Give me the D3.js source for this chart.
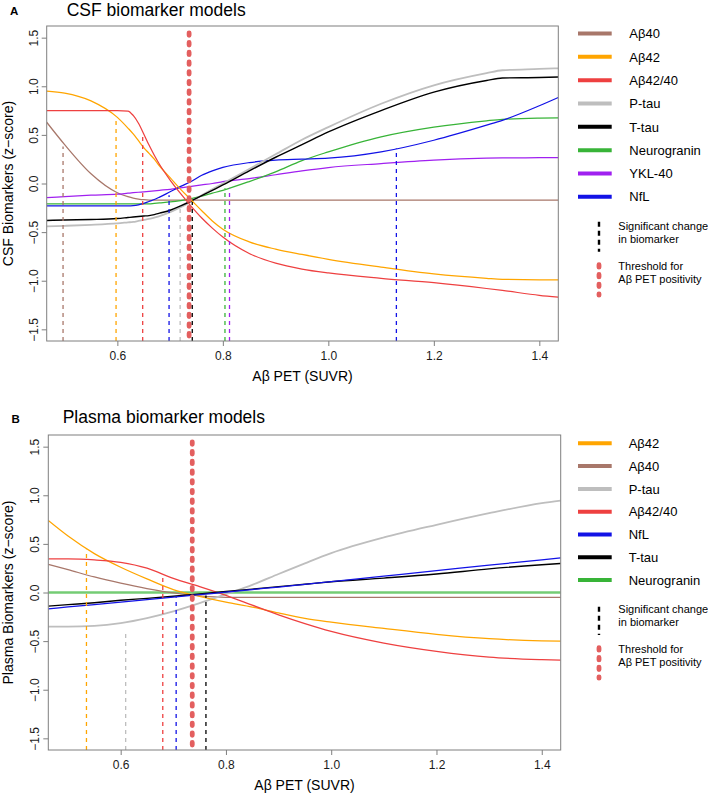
<!DOCTYPE html>
<html><head><meta charset="utf-8">
<script src="https://cdn.jsdelivr.net/npm/d3@7"></script>
<style>body{margin:0;background:#fff}svg{display:block;font-family:"Liberation Sans",Arial,Helvetica,sans-serif}</style>
</head><body><svg id="c" width="708" height="794"></svg>
<script>
// ---------------- DATA ----------------
const yTicks = [-1.5, -1, -0.5, 0, 0.5, 1, 1.5];
const xTicks = [0.6, 0.8, 1.0, 1.2, 1.4];
const thresholdSUVR = 0.736;

// Panel A: CSF biomarker models
const csfX      = [0.466,0.5,0.55,0.6,0.62,0.63,0.64,0.65,0.66,0.67,0.68,0.7,0.72,0.74,0.76,0.78,0.8,0.85,0.9,0.95,1.0,1.1,1.2,1.3,1.33,1.4,1.436];
const csfAb40   = [0.63,0.40,0.10,-0.095,-0.135,-0.15,-0.16,-0.167,-0.17,-0.17,-0.17,-0.17,-0.17,-0.17,-0.17,-0.17,-0.17,-0.17,-0.17,-0.17,-0.17,-0.17,-0.17,-0.17,-0.17,-0.17,-0.17];
const csfAb42   = [0.95,0.93,0.85,0.68,0.57,0.51,0.44,0.37,0.31,0.25,0.18,0.06,-0.06,-0.17,-0.28,-0.385,-0.47,-0.60,-0.675,-0.73,-0.78,-0.86,-0.93,-0.975,-0.985,-0.99,-0.99];
const csfAb4240 = [0.75,0.75,0.75,0.75,0.745,0.70,0.62,0.51,0.395,0.29,0.195,0.035,-0.105,-0.235,-0.355,-0.459,-0.551,-0.72,-0.82,-0.88,-0.92,-0.975,-1.02,-1.08,-1.10,-1.15,-1.17];
const csfPtau   = [-0.44,-0.435,-0.425,-0.41,-0.40,-0.395,-0.385,-0.375,-0.365,-0.35,-0.335,-0.295,-0.245,-0.185,-0.12,-0.06,0.0,0.15,0.30,0.45,0.58,0.82,1.01,1.135,1.165,1.178,1.185];
const csfTtau   = [-0.38,-0.375,-0.37,-0.36,-0.35,-0.345,-0.34,-0.335,-0.33,-0.32,-0.305,-0.275,-0.23,-0.18,-0.125,-0.07,-0.015,0.13,0.27,0.40,0.53,0.75,0.94,1.06,1.085,1.09,1.095];
const csfNrgn   = [-0.21,-0.21,-0.21,-0.21,-0.21,-0.21,-0.21,-0.21,-0.21,-0.205,-0.20,-0.19,-0.175,-0.155,-0.13,-0.10,-0.07,0.02,0.12,0.235,0.325,0.48,0.58,0.645,0.66,0.673,0.675];
const csfYkl40  = [-0.145,-0.135,-0.12,-0.11,-0.10,-0.095,-0.09,-0.085,-0.08,-0.075,-0.07,-0.06,-0.045,-0.03,-0.015,0.0,0.02,0.05,0.09,0.13,0.164,0.205,0.24,0.26,0.263,0.265,0.265];
const csfNfl    = [-0.23,-0.23,-0.23,-0.23,-0.23,-0.228,-0.22,-0.205,-0.185,-0.165,-0.14,-0.085,-0.03,0.02,0.085,0.13,0.165,0.215,0.24,0.25,0.26,0.325,0.445,0.60,0.65,0.80,0.885];
const csfSigMarker = ["Aβ40","Aβ42","Aβ42/40","NfL","P-tau","T-tau","Neurogranin","YKL-40","NfL"];
const csfSigX      = [0.497,0.5975,0.648,0.698,0.719,0.742,0.804,0.8126,1.129];
const csfSigTop    = [0.38,0.68,0.52,-0.12,-0.23,-0.19,-0.05,-0.05,0.36];
const csfLegend = ["Aβ40","Aβ42","Aβ42/40","P-tau","T-tau","Neurogranin","YKL-40","NfL"];

// Panel B: Plasma biomarker models
const plasmaX      = [0.4625,0.5,0.55,0.6,0.65,0.7,0.75,0.8,0.85,0.9,0.95,1.0,1.1,1.2,1.3,1.4,1.436];
const plasmaAb42   = [0.74,0.58,0.40,0.26,0.14,0.03,-0.04,-0.10,-0.15,-0.21,-0.265,-0.305,-0.37,-0.43,-0.475,-0.497,-0.50];
const plasmaAb40   = [0.29,0.235,0.16,0.096,0.04,-0.005,-0.035,-0.05,-0.05,-0.05,-0.05,-0.05,-0.05,-0.05,-0.05,-0.05,-0.05];
const plasmaPtau   = [-0.35,-0.35,-0.343,-0.315,-0.264,-0.195,-0.11,-0.017,0.079,0.19,0.30,0.405,0.566,0.696,0.816,0.919,0.946];
const plasmaAb4240 = [0.345,0.345,0.335,0.31,0.25,0.145,0.06,-0.03,-0.13,-0.23,-0.32,-0.40,-0.52,-0.605,-0.665,-0.69,-0.695];
const plasmaNfl    = [-0.168,-0.149,-0.124,-0.099,-0.073,-0.048,-0.022,0.003,0.03,0.056,0.084,0.112,0.168,0.224,0.282,0.336,0.357];
const plasmaTtau   = [-0.14,-0.125,-0.105,-0.08,-0.06,-0.038,-0.015,0.01,0.035,0.06,0.085,0.11,0.148,0.19,0.243,0.285,0.298];
const plasmaNrgn   = [0,0,0,0,0,0,0,0,0,0,0,0,0,0,0,0,0];
const plasmaSigMarker = ["Aβ42","P-tau","Aβ42/40","NfL","T-tau"];
const plasmaSigX      = [0.535,0.6095,0.68,0.7054,0.762];
const plasmaSigTop    = [0.44,-0.40,0.19,-0.05,-0.03];
const plasmaLegend = ["Aβ42","Aβ40","P-tau","Aβ42/40","NfL","T-tau","Neurogranin"];

// ---------------- STYLE ----------------
const colors = {
  "Aβ40":"#A8776A","Aβ42":"#FFA500","Aβ42/40":"#EE4040","P-tau":"#BEBEBE",
  "T-tau":"#000000","Neurogranin":"#38B438","YKL-40":"#A020F0","NfL":"#1212E6"
};
const widths = {"P-tau":1.8,"T-tau":1.4};
const dotColor = "#E35F5F";
const frameColor = "#7f7f7f";
const fontFam = '"Liberation Sans",Arial,Helvetica,sans-serif';
const fmt = d => d.toFixed(1).replace("-", "\u2212");

const svg = d3.select("#c");

function panel(cfg) {
  const x = d3.scaleLinear().domain(cfg.xDomain).range([cfg.left, cfg.right]);
  const y = d3.scaleLinear().domain([-1.62, 1.62]).range([cfg.bottom, cfg.top]);
  const clipId = "clip" + cfg.id;
  svg.append("clipPath").attr("id", clipId).append("rect")
    .attr("x", cfg.left).attr("y", cfg.top)
    .attr("width", cfg.right - cfg.left).attr("height", cfg.bottom - cfg.top);
  const g = svg.append("g").attr("clip-path", `url(#${clipId})`);
  const line = d3.line().x(d => x(d[0])).y(d => y(d[1])).curve(d3.curveMonotoneX);

  // curves
  cfg.series.forEach(([name, vals]) => {
    const pts = cfg.xs.map((xv, i) => [xv, vals[i]]);
    g.append("path").attr("d", line(pts)).attr("fill", "none")
      .attr("stroke", name === "Neurogranin" && cfg.id === "B" ? "#74CC74" : colors[name])
      .attr("stroke-width", name === "Neurogranin" && cfg.id === "B" ? 2.4 : (widths[name] || 1.25));
  });

  // threshold dots
  g.append("line")
    .attr("x1", x(thresholdSUVR)).attr("x2", x(thresholdSUVR))
    .attr("y1", y(1.55)).attr("y2", y(-1.62))
    .attr("stroke", dotColor).attr("stroke-width", 4.8)
    .attr("stroke-linecap", "round").attr("stroke-dasharray", "2.5 7.2");

  // significant change dashed lines
  cfg.sigMarker.forEach((m, i) => {
    g.append("line")
      .attr("x1", x(cfg.sigX[i])).attr("x2", x(cfg.sigX[i]))
      .attr("y1", y(-1.62)).attr("y2", y(cfg.sigTop[i]))
      .attr("stroke", colors[m]).attr("stroke-width", 1.3)
      .attr("stroke-dasharray", "4 4");
  });

  // frame
  svg.append("rect").attr("x", cfg.left).attr("y", cfg.top)
    .attr("width", cfg.right - cfg.left).attr("height", cfg.bottom - cfg.top)
    .attr("fill", "none").attr("stroke", frameColor).attr("stroke-width", 1);

  // x axis
  const gx = svg.append("g").attr("transform", `translate(0,${cfg.bottom})`)
    .call(d3.axisBottom(x).tickValues(xTicks).tickSize(5).tickFormat(fmt));
  gx.attr("font-family", fontFam).attr("font-size", 12);
  gx.select(".domain").remove();
  gx.selectAll(".tick line").attr("stroke", frameColor);
  gx.selectAll(".tick text").attr("y", 19).attr("dy", null).attr("fill", "#1a1a1a");

  // y axis
  const gy = svg.append("g").attr("transform", `translate(${cfg.left},0)`)
    .call(d3.axisLeft(y).tickValues(yTicks).tickSize(5).tickFormat(fmt));
  gy.attr("font-family", fontFam).attr("font-size", 12);
  gy.select(".domain").remove();
  gy.selectAll(".tick line").attr("stroke", frameColor);
  gy.selectAll(".tick text").attr("transform", "rotate(-90)")
    .attr("x", 0).attr("y", -9.2).attr("dy", null)
    .attr("text-anchor", "middle").attr("fill", "#1a1a1a");

  // titles
  svg.append("text").attr("x", cfg.letterX).attr("y", cfg.letterY)
    .attr("font-size", 11.5).attr("font-weight", "bold").text(cfg.id);
  svg.append("text").attr("x", cfg.titleX).attr("y", cfg.titleY)
    .attr("font-size", 17.5).text(cfg.title);
  svg.append("text").attr("x", (cfg.left + cfg.right) / 2).attr("y", cfg.bottom + 40)
    .attr("text-anchor", "middle").attr("font-size", 14).text("Aβ PET (SUVR)");
  svg.append("text")
    .attr("transform", `translate(13,${(cfg.top + cfg.bottom) / 2}) rotate(-90)`)
    .attr("text-anchor", "middle").attr("font-size", 14).text(cfg.yTitle);

  // legend
  const lg = svg.append("g");
  cfg.legend.forEach((name, i) => {
    const ly = cfg.legY0 + i * cfg.legStep;
    lg.append("line").attr("x1", 578).attr("x2", 611.7).attr("y1", ly).attr("y2", ly)
      .attr("stroke", colors[name]).attr("stroke-width", 4);
    lg.append("text").attr("x", cfg.legTextX).attr("y", ly).attr("dy", "0.36em")
      .attr("font-size", 13).text(name);
  });
  lg.append("line").attr("x1", 599).attr("x2", 599)
    .attr("y1", cfg.sigY0).attr("y2", cfg.sigY1)
    .attr("stroke", "#000").attr("stroke-width", 2.4).attr("stroke-dasharray", "5 4");
  lg.append("line").attr("x1", 599).attr("x2", 599)
    .attr("y1", cfg.dotY0).attr("y2", cfg.dotY0 + 30.5)
    .attr("stroke", dotColor).attr("stroke-width", 4.8)
    .attr("stroke-linecap", "round").attr("stroke-dasharray", "2.5 7.2");
  [["Significant change", cfg.sigTextY], ["in biomarker", cfg.sigTextY + 13.5],
   ["Threshold for", cfg.thrTextY], ["Aβ PET positivity", cfg.thrTextY + 13.5]]
    .forEach(([t, ty]) => lg.append("text").attr("x", 618.3).attr("y", ty)
      .attr("dy", "0.36em").attr("font-size", 11).text(t));
}

panel({
  id: "A", title: "CSF biomarker models", yTitle: "CSF Biomarkers (z\u2212score)",
  left: 46.7, right: 558.3, top: 26, bottom: 341, xDomain: [0.466, 1.436],
  xs: csfX,
  series: [["Aβ40", csfAb40], ["YKL-40", csfYkl40], ["Neurogranin", csfNrgn], ["NfL", csfNfl],
           ["P-tau", csfPtau], ["T-tau", csfTtau], ["Aβ42", csfAb42], ["Aβ42/40", csfAb4240]],
  sigMarker: csfSigMarker, sigX: csfSigX, sigTop: csfSigTop,
  legend: csfLegend, legY0: 33.5, legStep: 23.33, legTextX: 629.3,
  sigY0: 221.7, sigY1: 251.7, dotY0: 264.7, sigTextY: 225.7, thrTextY: 265.7,
  letterX: 10, letterY: 15, titleX: 66.7, titleY: 16
});

panel({
  id: "B", title: "Plasma biomarker models", yTitle: "Plasma Biomarkers (z\u2212score)",
  left: 48.3, right: 560.7, top: 435, bottom: 750, xDomain: [0.4625, 1.436],
  xs: plasmaX,
  series: [["Neurogranin", plasmaNrgn], ["Aβ40", plasmaAb40], ["P-tau", plasmaPtau],
           ["Aβ42", plasmaAb42], ["Aβ42/40", plasmaAb4240], ["T-tau", plasmaTtau], ["NfL", plasmaNfl]],
  sigMarker: plasmaSigMarker, sigX: plasmaSigX, sigTop: plasmaSigTop,
  legend: plasmaLegend, legY0: 443.3, legStep: 22.8, legTextX: 628.7,
  sigY0: 606.7, sigY1: 635, dotY0: 647.7, sigTextY: 609, thrTextY: 648.7,
  letterX: 11.5, letterY: 422.7, titleX: 62.7, titleY: 423.3
});
</script>
</body></html>
